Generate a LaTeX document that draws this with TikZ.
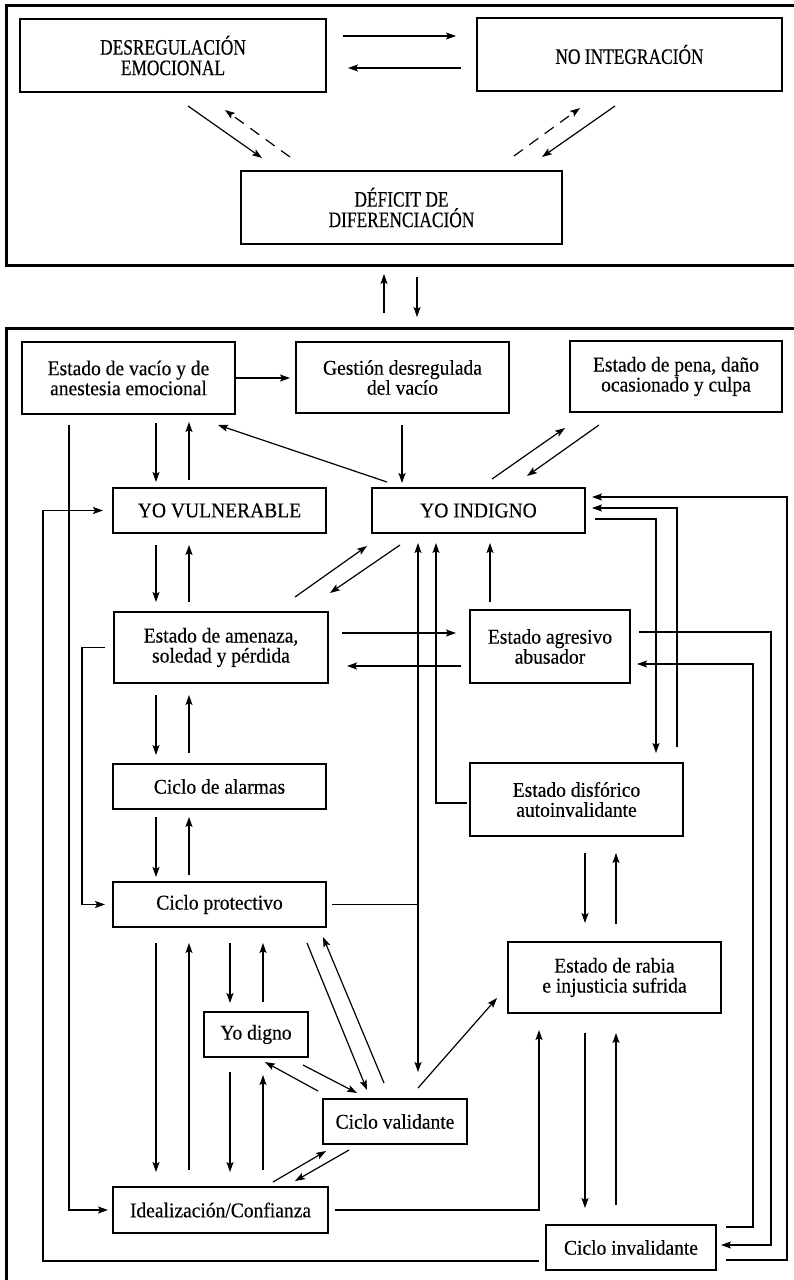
\documentclass[tikz,border=0pt]{standalone}
\usepackage{fontspec}
\setmainfont{Liberation Serif}
\newfontfamily\bodyfont[FakeStretch=0.93, FakeBold=0.3]{Liberation Serif}
\newfontfamily\capsfont[FakeStretch=0.79, FakeBold=0.3]{Liberation Serif}
\usetikzlibrary{arrows.meta}

\begin{document}
\begin{tikzpicture}[
  x=1pt, y=-1pt, line width=1.2pt,
  >={Stealth[length=10pt,width=7pt,inset=2pt]},
  box/.style={draw, line width=1.4pt, rectangle, inner sep=0pt, outer sep=0pt,
    align=center, font=\bodyfont\fontsize{21}{20}\selectfont},
  capsbox/.style={box, font=\capsfont\fontsize{22}{20.5}\selectfont},
  frame/.style={draw, line width=3pt, rectangle, inner sep=0pt, outer sep=0pt},
  dashedarrow/.style={->, dash pattern=on 11pt off 8pt},
]
\useasboundingbox (0,0) rectangle (794,1280);
\fill[white] (0,0) rectangle (794,1280);
\clip (0,0) rectangle (794,1280);

% ---------- outer frames ----------
\node[frame, minimum width=824pt, minimum height=260pt] (topframe) at (418,135) {};
\node[frame, minimum width=824pt, minimum height=992pt] (bottomframe) at (418,824) {};

% ---------- upper block ----------
\node[capsbox, minimum width=306pt, minimum height=73pt] (dreg) at (173,55.5) {DESREGULACIÓN\\EMOCIONAL};
\node[capsbox, minimum width=305pt, minimum height=73pt] (noint) at (629.5,54.5) {NO INTEGRACIÓN};
\node[capsbox, minimum width=321pt, minimum height=73pt] (defic) at (401.5,207.5) {DÉFICIT DE\\DIFERENCIACIÓN};

\draw[->] ([shift={(17,-19.5)}]dreg.east) -- ([shift={(-21,-18.5)}]noint.west);
\draw[->] ([shift={(-16,13.5)}]noint.west) -- ([shift={(22,12.5)}]dreg.east);
\draw[->] ([shift={(15,14)}]dreg.south) -- ([shift={(-139.5,-13)}]defic.north);
\draw[dashedarrow] ([shift={(-111.5,-14)}]defic.north) -- ([shift={(52,18)}]dreg.south);
\draw[dashedarrow] ([shift={(112.5,-15)}]defic.north) -- ([shift={(-49.5,17)}]noint.south);
\draw[->] ([shift={(-14.5,15)}]noint.south) -- ([shift={(140.5,-14)}]defic.north);

% ---------- vertical lanes ----------
\foreach \lx in {43,82,156,189,230,263,384,402,417,418,436,490,539,585,616,656,677,753,771,787}
  \coordinate (L\lx) at (\lx,800);

% links between the two blocks
\draw[->, shorten <=15pt, shorten >=9pt] (bottomframe.north -| L384) -- (topframe.south -| L384);
\draw[->, shorten <=12pt, shorten >=11pt] (topframe.south -| L417) -- (bottomframe.north -| L417);

% ---------- lower block: states ----------
\node[box, minimum width=213pt, minimum height=72pt] (vacio) at (128.5,378) {Estado de vacío y de\\anestesia emocional};
\node[box, minimum width=213pt, minimum height=71pt] (gestion) at (402.5,377.5) {Gestión desregulada\\del vacío};
\node[box, minimum width=212pt, minimum height=71pt] (pena) at (676,376.5) {Estado de pena, daño\\ocasionado y culpa};
\node[box, minimum width=213pt, minimum height=45pt] (yovul) at (219.5,510.5) {YO VULNERABLE};
\node[box, minimum width=213pt, minimum height=45pt] (yoind) at (478.5,510.5) {YO INDIGNO};
\node[box, minimum width=214pt, minimum height=71pt] (amenaza) at (221,647.5) {Estado de amenaza,\\soledad y pérdida};
\node[box, minimum width=160pt, minimum height=73pt] (agresivo) at (550,646.5) {Estado agresivo\\abusador};
\node[box, minimum width=213pt, minimum height=45pt] (alarmas) at (219.5,786.5) {Ciclo de alarmas};
\node[box, minimum width=213pt, minimum height=73pt] (disforico) at (576.5,799.5) {Estado disfórico\\autoinvalidante};
\node[box, minimum width=213pt, minimum height=45pt] (protectivo) at (219.5,904.5) {Ciclo protectivo};
\node[box, minimum width=213pt, minimum height=71pt] (rabia) at (614.5,977.5) {Estado de rabia\\e injusticia sufrida};
\node[box, minimum width=104pt, minimum height=45pt] (yodigno) at (256,1034.5) {Yo digno};
\node[box, minimum width=144pt, minimum height=45pt] (validante) at (395,1121.5) {Ciclo validante};
\node[box, minimum width=215pt, minimum height=46pt] (ideal) at (220.5,1210) {Idealización/Confianza};
\node[box, minimum width=170pt, minimum height=45pt] (cinval) at (631,1247.5) {Ciclo invalidante};

% ---------- lower block: connectors ----------
\draw[->, shorten >=6pt] (vacio.east) -- (vacio.east -| gestion.west);
\draw[->, shorten <=9pt, shorten >=6pt] (vacio.south -| L156) -- (yovul.north -| L156);
\draw[->, shorten <=8pt, shorten >=8pt] (yovul.north -| L189) -- (vacio.south -| L189);
\draw[->] ([shift={(-91.5,-6)}]yoind.north) -- ([shift={(89.5,11)}]vacio.south);
\draw[->, shorten <=12pt, shorten >=5pt] (gestion.south -| L402) -- (yoind.north -| L402);
\draw[->] ([shift={(13.5,-9)}]yoind.north) -- ([shift={(-111,16)}]pena.south);
\draw[->] ([shift={(-77,13)}]pena.south) -- ([shift={(48.5,-12)}]yoind.north);

\draw[->, shorten <=12pt, shorten >=10pt] (yovul.south -| L156) -- (amenaza.north -| L156);
\draw[->, shorten <=10pt, shorten >=12pt] (amenaza.north -| L189) -- (yovul.south -| L189);
\draw[->] ([shift={(74,-15)}]amenaza.north) -- ([shift={(-111.5,13)}]yoind.south);
\draw[->] ([shift={(-78.5,12)}]yoind.south) -- ([shift={(109,-19)}]amenaza.north);

\draw[->, shorten >=10pt] ([shift={(-7,13.5)}]cinval.west) -| (L43) |- (yovul.west);
\draw[->, shorten >=5pt] ([shift={(-59.5,11)}]vacio.south) |- (ideal.west);
\draw[->, shorten <=9pt, shorten >=8pt] (amenaza.west) -| (L82) |- (protectivo.west);

\draw[->] ([shift={(14,-14.5)}]amenaza.east) -- ([shift={(-14,-13.5)}]agresivo.west);
\draw[->] ([shift={(-9,19.5)}]agresivo.west) -- ([shift={(19,18.5)}]amenaza.east);
\draw[->, shorten <=8pt, shorten >=10pt] (agresivo.north -| L490) -- (yoind.south -| L490);

\draw[<->, shorten <=10pt, shorten >=27pt] (yoind.south -| L418) -- (validante.north -| L418);
\draw[shorten <=6pt] (protectivo.east) -- (protectivo.east -| L418);
\draw[->, shorten <=3pt, shorten >=10pt] ([shift={(0,3.5)}]disforico.west) -| (yoind.south -| L436);

\draw[->, shorten >=10pt] ([shift={(10,8.5)}]yoind.east) -| (disforico.north -| L656);
\draw[->, shorten <=16pt] (disforico.north -| L677) |- ([shift={(7,-2.5)}]yoind.east);
\draw[->] ([shift={(10,12.5)}]cinval.east) -| (L787) |- ([shift={(7,-13.5)}]yoind.east);
\draw[->] ([shift={(9,-14.5)}]agresivo.east) -| (L771) |- ([shift={(5,-2.5)}]cinval.east);
\draw[->] ([shift={(10,-20.5)}]cinval.east) -| (L753) |- ([shift={(7,17.5)}]agresivo.east);

\draw[->, shorten <=17pt, shorten >=19pt] (disforico.south -| L585) -- (rabia.north -| L585);
\draw[->, shorten <=18pt, shorten >=17pt] (rabia.north -| L616) -- (disforico.south -| L616);
\draw[->, shorten <=20pt, shorten >=17pt] (rabia.south -| L585) -- (cinval.north -| L585);
\draw[->, shorten <=20pt, shorten >=20pt] (cinval.north -| L616) -- (rabia.south -| L616);
\draw[->, shorten <=7pt, shorten >=17pt] (ideal.east) -| (rabia.south -| L539);
\draw[->] ([shift={(23,-11)}]validante.north) -- ([shift={(-11,20.5)}]rabia.west);

\draw[->, shorten <=12pt, shorten >=9pt] (amenaza.south -| L156) -- (alarmas.north -| L156);
\draw[->, shorten <=11pt, shorten >=12pt] (alarmas.north -| L189) -- (amenaza.south -| L189);
\draw[->, shorten <=8pt, shorten >=5pt] (alarmas.south -| L156) -- (protectivo.north -| L156);
\draw[->, shorten <=7pt, shorten >=8pt] (protectivo.north -| L189) -- (alarmas.south -| L189);
\draw[->, shorten <=16pt, shorten >=15pt] (protectivo.south -| L156) -- (ideal.north -| L156);
\draw[->, shorten <=17pt, shorten >=16pt] (ideal.north -| L189) -- (protectivo.south -| L189);
\draw[->, shorten <=16pt, shorten >=9pt] (protectivo.south -| L230) -- (yodigno.north -| L230);
\draw[->, shorten <=10pt, shorten >=16pt] (yodigno.north -| L263) -- (protectivo.south -| L263);
\draw[->, shorten <=15pt, shorten >=15pt] (yodigno.south -| L230) -- (ideal.north -| L230);
\draw[->, shorten <=17pt, shorten >=18pt] (ideal.north -| L263) -- (yodigno.south -| L263);

\draw[->] ([shift={(-77,-8)}]validante.north) -- ([shift={(9,5)}]yodigno.south);
\draw[->] ([shift={(47,8)}]yodigno.south) -- ([shift={(-38,-6)}]validante.north);
\draw[->] ([shift={(87.5,16)}]protectivo.south) -- ([shift={(-28,-9)}]validante.north);
\draw[->] ([shift={(-11,-16)}]validante.north) -- ([shift={(103.5,10)}]protectivo.south);
\draw[->] ([shift={(52.5,-5)}]ideal.north) -- ([shift={(-69,7)}]validante.south);
\draw[->] ([shift={(-46,6)}]validante.south) -- ([shift={(74.5,-6)}]ideal.north);
\end{tikzpicture}
\end{document}
